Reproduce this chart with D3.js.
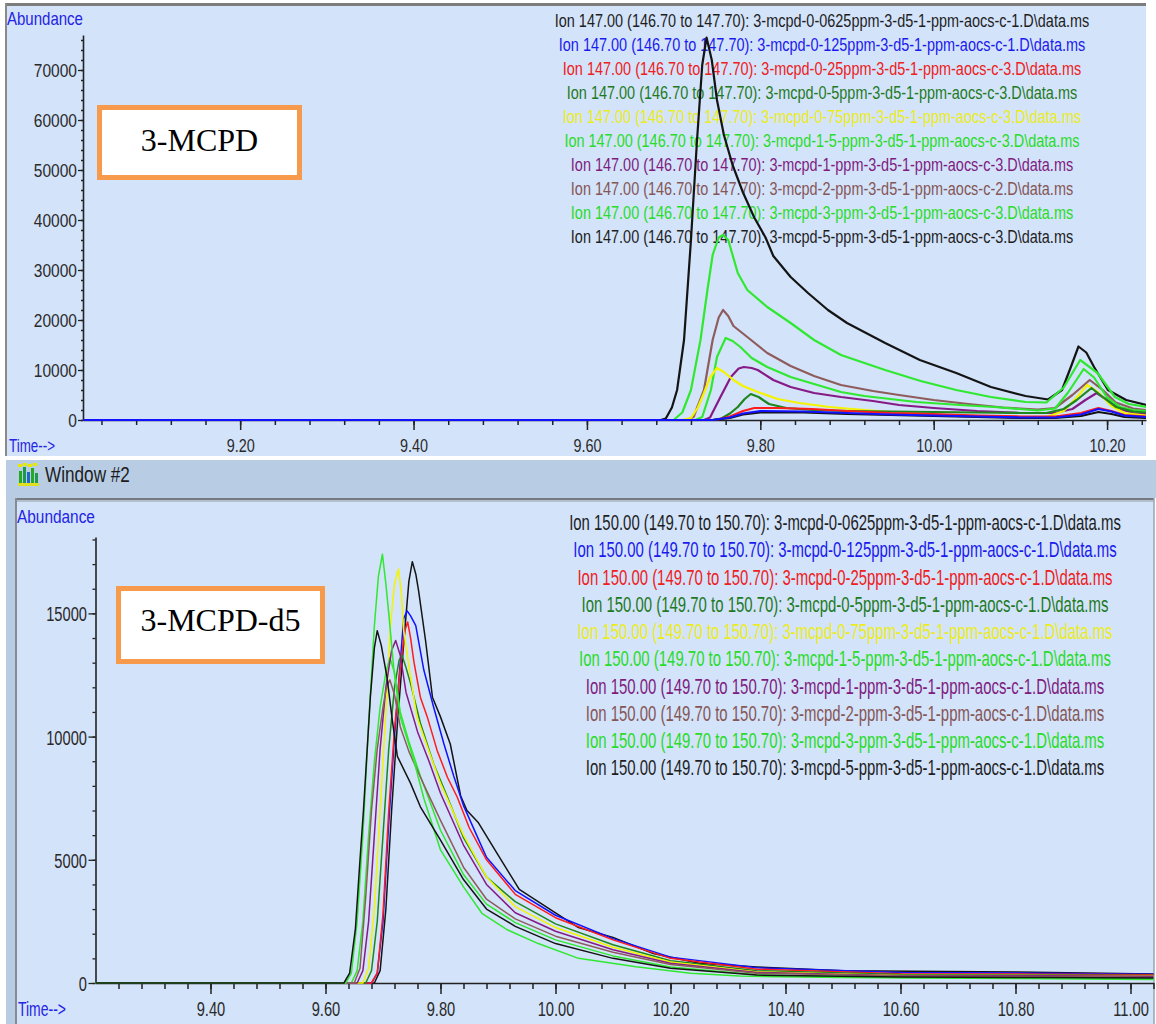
<!DOCTYPE html>
<html>
<head>
<meta charset="utf-8">
<script src="https://cdn.jsdelivr.net/npm/d3@7"></script>
<style>
  html, body { margin: 0; padding: 0; background: #ffffff; }
  svg { display: block; }
</style>
</head>
<body>
<svg id="chart" width="1156" height="1024"></svg>
<script>
// ---------------------------------------------------------------
// Extracted ion chromatograms, [retention time (min), abundance]
// Upper window: ion 147 (3-MCPD), lower window: ion 150 (3-MCPD-d5)
// ---------------------------------------------------------------

// Ion 147, calibration levels
const ion147_0p0625 = [[9.02,0],[9.745,0],[9.765,400],[9.78,1100],[9.80,1500],[9.85,1500],[9.90,1200],[9.95,1000],[10.00,800],[10.05,600],[10.10,400],[10.14,400],[10.17,800],[10.19,1600],[10.205,1200],[10.22,600],[10.245,400]];
const ion147_0p125 = [[9.02,0],[9.745,0],[9.765,500],[9.78,1300],[9.80,1800],[9.85,1700],[9.90,1400],[9.95,1100],[10.00,900],[10.05,700],[10.10,500],[10.14,500],[10.17,1100],[10.19,2200],[10.205,1700],[10.22,900],[10.245,600]];
const ion147_0p25 = [[9.02,0],[9.748,0],[9.765,700],[9.78,1800],[9.793,2400],[9.82,2400],[9.86,2200],[9.90,1800],[9.95,1400],[10.00,1200],[10.05,900],[10.10,700],[10.14,700],[10.17,1400],[10.19,2400],[10.205,1800],[10.22,1000],[10.245,700]];
const ion147_0p5 = [[9.02,0],[9.745,0],[9.755,300],[9.765,1300],[9.774,2600],[9.782,4200],[9.789,5200],[9.798,4600],[9.81,3200],[9.83,2400],[9.86,2000],[9.90,1800],[9.95,1700],[10.00,1600],[10.05,1500],[10.10,1400],[10.13,1400],[10.15,2200],[10.165,4000],[10.182,6400],[10.195,4600],[10.21,2600],[10.23,1700],[10.245,1500]];
const ion147_0p75 = [[9.02,0],[9.71,0],[9.72,400],[9.728,2500],[9.735,5400],[9.742,8500],[9.75,10400],[9.758,9600],[9.769,8000],[9.78,6800],[9.797,5600],[9.82,4200],[9.845,3400],[9.88,2600],[9.92,2000],[9.96,1500],[10.00,1100],[10.05,800],[10.10,600],[10.13,600],[10.15,1800],[10.165,4500],[10.177,7000],[10.19,5500],[10.205,2800],[10.22,1400],[10.245,900]];
const ion147_1p5 = [[9.02,0],[9.725,0],[9.733,600],[9.743,6000],[9.75,12600],[9.76,16400],[9.768,15800],[9.777,14600],[9.79,12400],[9.808,10600],[9.835,8600],[9.862,7200],[9.893,5600],[9.92,4800],[9.95,4200],[9.98,3600],[10.03,3000],[10.07,2600],[10.12,1900],[10.14,2300],[10.155,5500],[10.173,10200],[10.185,8500],[10.20,4500],[10.215,2600],[10.23,2000],[10.245,1800]];
const ion147_1 = [[9.02,0],[9.735,0],[9.742,500],[9.754,4600],[9.766,8600],[9.775,10300],[9.781,10600],[9.79,10400],[9.797,10000],[9.815,8000],[9.835,6600],[9.862,5400],[9.893,4600],[9.93,3800],[9.96,3000],[10.00,2400],[10.05,1800],[10.10,1400],[10.14,1400],[10.16,2200],[10.175,4000],[10.188,5400],[10.20,4000],[10.215,2200],[10.23,1400],[10.245,1200]];
const ion147_2 = [[9.02,0],[9.715,0],[9.723,600],[9.735,6000],[9.745,16000],[9.752,20500],[9.757,22000],[9.763,20800],[9.769,18800],[9.785,16600],[9.808,13400],[9.835,10800],[9.862,8800],[9.893,7000],[9.93,5800],[9.96,5000],[10.00,4000],[10.04,3200],[10.08,2500],[10.12,2100],[10.14,2400],[10.16,5000],[10.18,8000],[10.195,6000],[10.21,3500],[10.23,2300],[10.245,2000]];
const ion147_3 = [[9.02,0],[9.70,0],[9.71,1500],[9.72,6000],[9.731,16000],[9.739,26000],[9.745,33000],[9.752,36500],[9.757,37000],[9.763,36000],[9.774,29400],[9.785,26000],[9.808,22600],[9.835,19400],[9.862,16000],[9.893,13000],[9.944,10000],[9.985,7800],[10.026,6000],[10.066,4600],[10.106,3600],[10.13,3500],[10.15,6500],[10.169,12000],[10.189,9400],[10.209,4600],[10.225,3200],[10.245,2600]];
const ion147_5 = [[9.02,0],[9.685,0],[9.691,300],[9.698,2500],[9.704,6000],[9.712,16000],[9.72,36000],[9.727,56000],[9.733,71000],[9.738,76500],[9.744,72000],[9.75,64000],[9.758,57000],[9.768,51000],[9.78,45500],[9.793,40500],[9.806,36500],[9.815,32800],[9.835,28600],[9.855,25400],[9.878,22000],[9.90,19400],[9.944,15400],[9.984,12000],[10.026,9400],[10.066,6600],[10.106,4800],[10.132,4100],[10.148,6000],[10.158,10500],[10.167,14700],[10.176,13500],[10.185,10600],[10.201,6000],[10.222,4000],[10.245,3000]];

// Ion 150, same injections (internal standard)
const ion150_0p0625 = [[9.20,0],[9.685,0],[9.695,500],[9.705,3000],[9.715,7000],[9.725,10500],[9.735,13500],[9.745,16300],[9.751,17100],[9.757,16600],[9.762,15900],[9.774,13900],[9.786,11600],[9.80,10800],[9.817,9700],[9.835,7600],[9.846,7000],[9.866,6500],[9.90,5200],[9.937,3800],[10.00,2850],[10.04,2250],[10.10,1850],[10.17,1200],[10.25,800],[10.35,650],[10.50,500],[10.80,450],[11.04,370]];
const ion150_0p125 = [[9.20,0],[9.68,0],[9.69,400],[9.70,2500],[9.71,6500],[9.72,10000],[9.73,13000],[9.736,14800],[9.742,15100],[9.748,14900],[9.757,14500],[9.771,12700],[9.788,11200],[9.806,9700],[9.823,8400],[9.84,7200],[9.88,5100],[9.93,3750],[10.00,2750],[10.10,1800],[10.20,1050],[10.35,620],[10.60,430],[10.85,400],[11.04,360]];
const ion150_0p25 = [[9.20,0],[9.68,0],[9.69,400],[9.70,2800],[9.71,7000],[9.72,10300],[9.73,12800],[9.738,14300],[9.743,14650],[9.748,14000],[9.754,13000],[9.765,11600],[9.777,10800],[9.794,9450],[9.812,8350],[9.829,7550],[9.85,6300],[9.88,5000],[9.93,3600],[10.00,2650],[10.10,1750],[10.20,1000],[10.35,560],[10.60,380],[10.85,360],[11.04,330]];
const ion150_0p5 = [[9.20,0],[9.67,0],[9.68,500],[9.69,2500],[9.70,6000],[9.71,9500],[9.72,12000],[9.728,13100],[9.733,13300],[9.74,12800],[9.748,12150],[9.765,10550],[9.788,8900],[9.812,7550],[9.84,5900],[9.88,4300],[9.93,3300],[10.00,2400],[10.10,1550],[10.20,900],[10.35,500],[10.60,340],[10.85,320],[11.04,300]];
const ion150_0p75 = [[9.20,0],[9.665,0],[9.675,600],[9.685,3000],[9.695,7000],[9.705,11000],[9.713,14500],[9.72,16200],[9.727,16800],[9.732,15800],[9.736,14300],[9.748,12400],[9.759,10800],[9.777,9600],[9.80,8100],[9.84,6000],[9.88,4300],[9.93,3100],[10.00,2250],[10.10,1450],[10.20,850],[10.35,450],[10.60,300],[10.85,300],[11.04,280]];
const ion150_1p5 = [[9.20,0],[9.645,0],[9.655,500],[9.665,2500],[9.675,6000],[9.685,9000],[9.695,11200],[9.705,12600],[9.712,13200],[9.72,12600],[9.73,11000],[9.745,9800],[9.765,8400],[9.80,6200],[9.84,4400],[9.88,3200],[9.93,2450],[10.00,1750],[10.10,1100],[10.20,650],[10.35,330],[10.60,220],[10.85,210],[11.04,150]];
const ion150_1 = [[9.20,0],[9.655,0],[9.665,500],[9.675,2500],[9.685,6000],[9.695,9500],[9.705,12000],[9.715,13500],[9.722,13900],[9.73,13300],[9.74,11800],[9.76,10200],[9.78,9000],[9.80,7700],[9.84,5600],[9.88,4000],[9.93,2850],[10.00,2100],[10.10,1350],[10.20,800],[10.35,430],[10.60,290],[10.85,290],[11.04,270]];
const ion150_2 = [[9.20,0],[9.65,0],[9.66,600],[9.67,3500],[9.68,7000],[9.69,9500],[9.70,11200],[9.706,12000],[9.712,12300],[9.72,11700],[9.73,10400],[9.745,9400],[9.77,8100],[9.80,6600],[9.84,4700],[9.88,3400],[9.93,2600],[10.00,1900],[10.10,1250],[10.20,750],[10.35,400],[10.60,280],[10.85,260],[11.04,220]];
const ion150_3 = [[9.20,0],[9.635,0],[9.645,400],[9.655,2500],[9.665,6000],[9.675,10500],[9.685,14500],[9.692,16500],[9.699,17400],[9.705,16200],[9.71,15000],[9.719,12700],[9.73,10800],[9.754,9000],[9.771,7500],[9.80,5400],[9.84,3900],[9.872,2830],[9.917,2150],[9.97,1600],[10.04,1000],[10.14,660],[10.235,400],[10.32,280],[10.50,220],[10.80,180],[11.04,140]];
const ion150_5 = [[9.20,0],[9.632,0],[9.642,400],[9.652,2200],[9.66,5000],[9.666,7000],[9.678,11600],[9.685,13600],[9.69,14300],[9.697,13700],[9.707,12400],[9.716,10700],[9.725,9200],[9.748,8100],[9.765,7150],[9.80,5800],[9.84,4200],[9.88,3000],[9.93,2300],[10.00,1600],[10.10,1000],[10.20,600],[10.35,320],[10.60,240],[10.85,220],[11.04,200]];

// Legend entries (one per trace, same order as the arrays above)
const ion147Labels = [
  "Ion 147.00 (146.70 to 147.70): 3-mcpd-0-0625ppm-3-d5-1-ppm-aocs-c-1.D\\data.ms",
  "Ion 147.00 (146.70 to 147.70): 3-mcpd-0-125ppm-3-d5-1-ppm-aocs-c-1.D\\data.ms",
  "Ion 147.00 (146.70 to 147.70): 3-mcpd-0-25ppm-3-d5-1-ppm-aocs-c-3.D\\data.ms",
  "Ion 147.00 (146.70 to 147.70): 3-mcpd-0-5ppm-3-d5-1-ppm-aocs-c-3.D\\data.ms",
  "Ion 147.00 (146.70 to 147.70): 3-mcpd-0-75ppm-3-d5-1-ppm-aocs-c-3.D\\data.ms",
  "Ion 147.00 (146.70 to 147.70): 3-mcpd-1-5-ppm-3-d5-1-ppm-aocs-c-3.D\\data.ms",
  "Ion 147.00 (146.70 to 147.70): 3-mcpd-1-ppm-3-d5-1-ppm-aocs-c-3.D\\data.ms",
  "Ion 147.00 (146.70 to 147.70): 3-mcpd-2-ppm-3-d5-1-ppm-aocs-c-2.D\\data.ms",
  "Ion 147.00 (146.70 to 147.70): 3-mcpd-3-ppm-3-d5-1-ppm-aocs-c-3.D\\data.ms",
  "Ion 147.00 (146.70 to 147.70): 3-mcpd-5-ppm-3-d5-1-ppm-aocs-c-3.D\\data.ms"
];
const ion150Labels = [
  "Ion 150.00 (149.70 to 150.70): 3-mcpd-0-0625ppm-3-d5-1-ppm-aocs-c-1.D\\data.ms",
  "Ion 150.00 (149.70 to 150.70): 3-mcpd-0-125ppm-3-d5-1-ppm-aocs-c-1.D\\data.ms",
  "Ion 150.00 (149.70 to 150.70): 3-mcpd-0-25ppm-3-d5-1-ppm-aocs-c-1.D\\data.ms",
  "Ion 150.00 (149.70 to 150.70): 3-mcpd-0-5ppm-3-d5-1-ppm-aocs-c-1.D\\data.ms",
  "Ion 150.00 (149.70 to 150.70): 3-mcpd-0-75ppm-3-d5-1-ppm-aocs-c-1.D\\data.ms",
  "Ion 150.00 (149.70 to 150.70): 3-mcpd-1-5-ppm-3-d5-1-ppm-aocs-c-1.D\\data.ms",
  "Ion 150.00 (149.70 to 150.70): 3-mcpd-1-ppm-3-d5-1-ppm-aocs-c-1.D\\data.ms",
  "Ion 150.00 (149.70 to 150.70): 3-mcpd-2-ppm-3-d5-1-ppm-aocs-c-1.D\\data.ms",
  "Ion 150.00 (149.70 to 150.70): 3-mcpd-3-ppm-3-d5-1-ppm-aocs-c-1.D\\data.ms",
  "Ion 150.00 (149.70 to 150.70): 3-mcpd-5-ppm-3-d5-1-ppm-aocs-c-1.D\\data.ms"
];

// Trace colours (plot) and legend text colours
const traceColors  = ["#141414","#1212ff","#ff1c1c","#1d861d","#f4f400","#2fe82f","#861a86","#8e5c5c","#2fe82f","#141414"];
const legendColors = ["#1e1e1e","#1a1aee","#ee2020","#1e7a1e","#ecec1c","#28dc28","#7e1c7e","#855656","#28dc28","#1e1e1e"];

// Axis tick values
const ion147TimeTicks = [9.20, 9.40, 9.60, 9.80, 10.00, 10.20];
const ion147AbundanceTicks = [0, 10000, 20000, 30000, 40000, 50000, 60000, 70000];
const ion150TimeTicks = [9.40, 9.60, 9.80, 10.00, 10.20, 10.40, 10.60, 10.80, 11.00];
const ion150AbundanceTicks = [0, 5000, 10000, 15000];

const ion147Series = [ion147_0p0625, ion147_0p125, ion147_0p25, ion147_0p5, ion147_0p75, ion147_1p5, ion147_1, ion147_2, ion147_3, ion147_5];
const ion150Series = [ion150_0p0625, ion150_0p125, ion150_0p25, ion150_0p5, ion150_0p75, ion150_1p5, ion150_1, ion150_2, ion150_3, ion150_5];

// ---------------------------------------------------------------
const SANS = "'Liberation Sans', Arial, sans-serif";
const SERIF = "'Liberation Serif', 'Times New Roman', serif";
const PANEL_BG = "#d3e3fa";
const FRAME = "#b8cde4";
const AXIS = "#222";
const TICK_TXT = "#2a2a2a";
const BLUE_TXT = "#2424e4";

const svg = d3.select("#chart");
const defs = svg.append("defs");

// narrow a text element horizontally about its own anchor point
function squeeze(sel, factor) {
  sel.each(function () {
    const t = d3.select(this);
    const x = +t.attr("x") || 0, y = +t.attr("y") || 0;
    t.attr("x", 0).attr("y", 0).attr("transform", `translate(${x},${y}) scale(${factor},1)`);
  });
}
// narrow a text element to an exact rendered width
function fitWidth(sel, width) {
  sel.each(function () {
    squeeze(d3.select(this), width / this.getComputedTextLength());
  });
}

// ---- window chrome ----
svg.append("rect").attr("x", 0).attr("y", 0).attr("width", 1156).attr("height", 1024).attr("fill", "#fff");
// upper window
svg.append("rect").attr("x", 6).attr("y", 5).attr("width", 1140).attr("height", 451).attr("fill", PANEL_BG);
svg.append("line").attr("x1", 5).attr("x2", 1146).attr("y1", 4.5).attr("y2", 4.5).attr("stroke", "#7c7c7c").attr("stroke-width", 3);
svg.append("line").attr("x1", 6).attr("x2", 6).attr("y1", 3).attr("y2", 456).attr("stroke", "#8a8a8a").attr("stroke-width", 2);
// title bar of the second window
svg.append("rect").attr("x", 6).attr("y", 460).attr("width", 1150).attr("height", 38).attr("fill", FRAME);
svg.append("rect").attr("x", 6).attr("y", 497).attr("width", 10).attr("height", 527).attr("fill", FRAME);
// lower window client area
svg.append("rect").attr("x", 16).attr("y", 498).attr("width", 1138).attr("height", 526).attr("fill", PANEL_BG);
svg.append("line").attr("x1", 15).attr("x2", 1154).attr("y1", 499).attr("y2", 499).attr("stroke", "#737a82").attr("stroke-width", 2);
svg.append("line").attr("x1", 15).attr("x2", 1154).attr("y1", 501).attr("y2", 501).attr("stroke", "#a9b3bd").attr("stroke-width", 1.5);
svg.append("line").attr("x1", 16).attr("x2", 16).attr("y1", 498).attr("y2", 1024).attr("stroke", "#858c94").attr("stroke-width", 2);
svg.append("line").attr("x1", 1154).attr("x2", 1154).attr("y1", 498).attr("y2", 1024).attr("stroke", "#9aa4ae").attr("stroke-width", 1.5);

// small window icon
const icon = svg.append("g").attr("transform", "translate(17,463)");
[[2,8,3,12,"#22aa22"],[6,4,3,16,"#1a9a4a"],[10,9,3,11,"#2266cc"],[14,5,3,15,"#22aa22"],[18,10,3,10,"#1a9a4a"]]
  .forEach(b => icon.append("rect").attr("x", b[0]).attr("y", b[1]).attr("width", b[2]).attr("height", b[3]).attr("fill", b[4]));
[[1,1],[6,0],[11,1],[16,0]].forEach(p => icon.append("rect").attr("x", p[0]).attr("y", p[1]).attr("width", 4).attr("height", 3).attr("fill", "#e8e800"));
icon.append("rect").attr("x", 1).attr("y", 20).attr("width", 21).attr("height", 3).attr("fill", "#e0e020");
const winTitle = svg.append("text").attr("x", 45).attr("y", 482).attr("font-family", SANS).attr("font-size", 22)
  .attr("fill", "#1c1c1c").text("Window #2");
fitWidth(winTitle, 85);

// ---- one chromatogram panel ----
function drawPanel(cfg) {
  const x = d3.scaleLinear().domain(cfg.xDomain).range(cfg.xRange);
  const y = d3.scaleLinear().domain(cfg.yDomain).range(cfg.yRange);
  const g = svg.append("g");

  const clipId = cfg.id + "-clip";
  defs.append("clipPath").attr("id", clipId).append("rect")
    .attr("x", cfg.xRange[0]).attr("y", cfg.clipTop)
    .attr("width", cfg.xRange[1] - cfg.xRange[0]).attr("height", cfg.yRange[0] - cfg.clipTop + 2);

  // axis titles
  const ab = g.append("text").attr("x", cfg.abundancePos[0]).attr("y", cfg.abundancePos[1])
    .attr("font-family", SANS).attr("font-size", cfg.titleSize).attr("fill", BLUE_TXT).text("Abundance");
  fitWidth(ab, cfg.abundanceWidth);
  const tm = g.append("text").attr("x", cfg.timePos[0]).attr("y", cfg.timePos[1])
    .attr("font-family", SANS).attr("font-size", cfg.timeSize).attr("fill", BLUE_TXT).text("Time-->");
  fitWidth(tm, cfg.timeWidth);

  // legend
  const leg = g.append("g");
  cfg.labels.forEach((lab, i) => {
    leg.append("text").attr("x", cfg.legendX).attr("y", cfg.legendY0 + i * cfg.legendDy)
      .attr("text-anchor", "middle").attr("font-family", SANS).attr("font-size", cfg.legendSize)
      .attr("fill", legendColors[i]).text(lab);
  });
  const legFactor = cfg.legendWidth / leg.select("text").node().getComputedTextLength();
  squeeze(leg.selectAll("text"), legFactor);

  // name box
  g.append("rect").attr("x", cfg.box[0]).attr("y", cfg.box[1]).attr("width", cfg.box[2]).attr("height", cfg.box[3])
    .attr("fill", "#ffffff").attr("stroke", "#f79a4c").attr("stroke-width", 5);
  g.append("text").attr("x", cfg.box[0] + cfg.box[2] / 2).attr("y", cfg.boxTextY)
    .attr("text-anchor", "middle").attr("font-family", SERIF).attr("font-size", 32).attr("fill", "#000")
    .text(cfg.name);

  // y axis: minor then major
  const yMinor = g.append("g").attr("transform", `translate(${cfg.xRange[0]},0)`)
    .call(d3.axisLeft(y).tickValues(cfg.yMinor).tickSize(cfg.yMinorSize).tickFormat(""));
  yMinor.select(".domain").remove();
  yMinor.selectAll(".tick line").attr("stroke", AXIS).attr("stroke-width", 1.3);

  const yMajor = g.append("g").attr("transform", `translate(${cfg.xRange[0]},0)`)
    .call(d3.axisLeft(y).tickValues(cfg.yTicks).tickSize(cfg.yMajorSize).tickSizeOuter(0)
      .tickPadding(cfg.yPad).tickFormat(d3.format("d")));
  yMajor.select(".domain").attr("stroke", AXIS).attr("stroke-width", 1.6);
  yMajor.selectAll(".tick line").attr("stroke", AXIS).attr("stroke-width", 1.3);
  yMajor.selectAll(".tick text").attr("font-family", SANS).attr("font-size", cfg.tickSize)
    .attr("fill", TICK_TXT).attr("dy", "0.36em");
  squeeze(yMajor.selectAll(".tick text"), cfg.yFactor);

  // x axis: minor then major
  const xMinor = g.append("g").attr("transform", `translate(0,${cfg.yRange[0]})`)
    .call(d3.axisBottom(x).tickValues(cfg.xMinor).tickSize(cfg.xMinorSize).tickFormat(""));
  xMinor.select(".domain").remove();
  xMinor.selectAll(".tick line").attr("stroke", AXIS).attr("stroke-width", 1.5);

  const xMajor = g.append("g").attr("transform", `translate(0,${cfg.yRange[0]})`)
    .call(d3.axisBottom(x).tickValues(cfg.xTicks).tickSize(cfg.xMajorSize).tickSizeOuter(0)
      .tickFormat(d3.format(".2f")));
  xMajor.select(".domain").attr("stroke", AXIS).attr("stroke-width", 1.6);
  xMajor.selectAll(".tick line").attr("stroke", AXIS).attr("stroke-width", 1.5);
  xMajor.selectAll(".tick text").attr("font-family", SANS).attr("font-size", cfg.tickSize)
    .attr("fill", TICK_TXT).attr("y", cfg.xLabelOffset).attr("dy", 0);
  squeeze(xMajor.selectAll(".tick text"), cfg.xFactor);

  // traces
  const line = d3.line().x(d => x(d[0])).y(d => y(d[1]));
  const traces = g.append("g").attr("clip-path", `url(#${clipId})`);
  cfg.order.forEach(i => {
    traces.append("path").datum(cfg.series[i]).attr("d", line)
      .attr("fill", "none").attr("stroke", traceColors[i]).attr("stroke-width", cfg.lineWidth)
      .attr("stroke-linejoin", "round").attr("stroke-linecap", "round");
  });
}

// upper window: ion 147
drawPanel({
  id: "ion147", name: "3-MCPD",
  xDomain: [9.0187, 10.2449], xRange: [83, 1146],
  yDomain: [0, 77000], yRange: [420, 35], clipTop: 8,
  series: ion147Series, labels: ion147Labels,
  order: [9, 8, 7, 6, 5, 4, 3, 2, 0, 1],
  lineWidth: 2.2,
  xTicks: ion147TimeTicks, xMinor: d3.range(9.04, 10.245, 0.04),
  yTicks: ion147AbundanceTicks, yMinor: d3.range(0, 77001, 2000),
  yMajorSize: 5, yMinorSize: 2, yPad: 1, xMajorSize: 10, xMinorSize: 5,
  tickSize: 18.5, yFactor: 0.84, xFactor: 0.78, xLabelOffset: 32,
  titleSize: 18, abundancePos: [7, 25], abundanceWidth: 76,
  timeSize: 18, timePos: [9, 452], timeWidth: 46,
  legendX: 822, legendY0: 27, legendDy: 24, legendSize: 18.5, legendWidth: 535,
  box: [99.5, 107.5, 200, 70], boxTextY: 151
});

// lower window: ion 150
drawPanel({
  id: "ion150", name: "3-MCPD-d5",
  xDomain: [9.20, 11.04], xRange: [95.5, 1153.5],
  yDomain: [0, 18100], yRange: [983, 537], clipTop: 503,
  series: ion150Series, labels: ion150Labels,
  order: [0, 1, 2, 3, 4, 5, 6, 7, 8, 9],
  lineWidth: 1.5,
  xTicks: ion150TimeTicks, xMinor: d3.range(9.24, 11.041, 0.04),
  yTicks: ion150AbundanceTicks, yMinor: d3.range(0, 18001, 1000),
  yMajorSize: 7, yMinorSize: 3, yPad: 1.5, xMajorSize: 11, xMinorSize: 6,
  tickSize: 21, yFactor: 0.7, xFactor: 0.7, xLabelOffset: 33,
  titleSize: 18.5, abundancePos: [17, 523], abundanceWidth: 78,
  timeSize: 21, timePos: [18, 1016], timeWidth: 48,
  legendX: 845, legendY0: 530, legendDy: 27.25, legendSize: 21.5, legendWidth: 552,
  box: [118.5, 588.5, 204, 73], boxTextY: 631
});
</script>
</body>
</html>
